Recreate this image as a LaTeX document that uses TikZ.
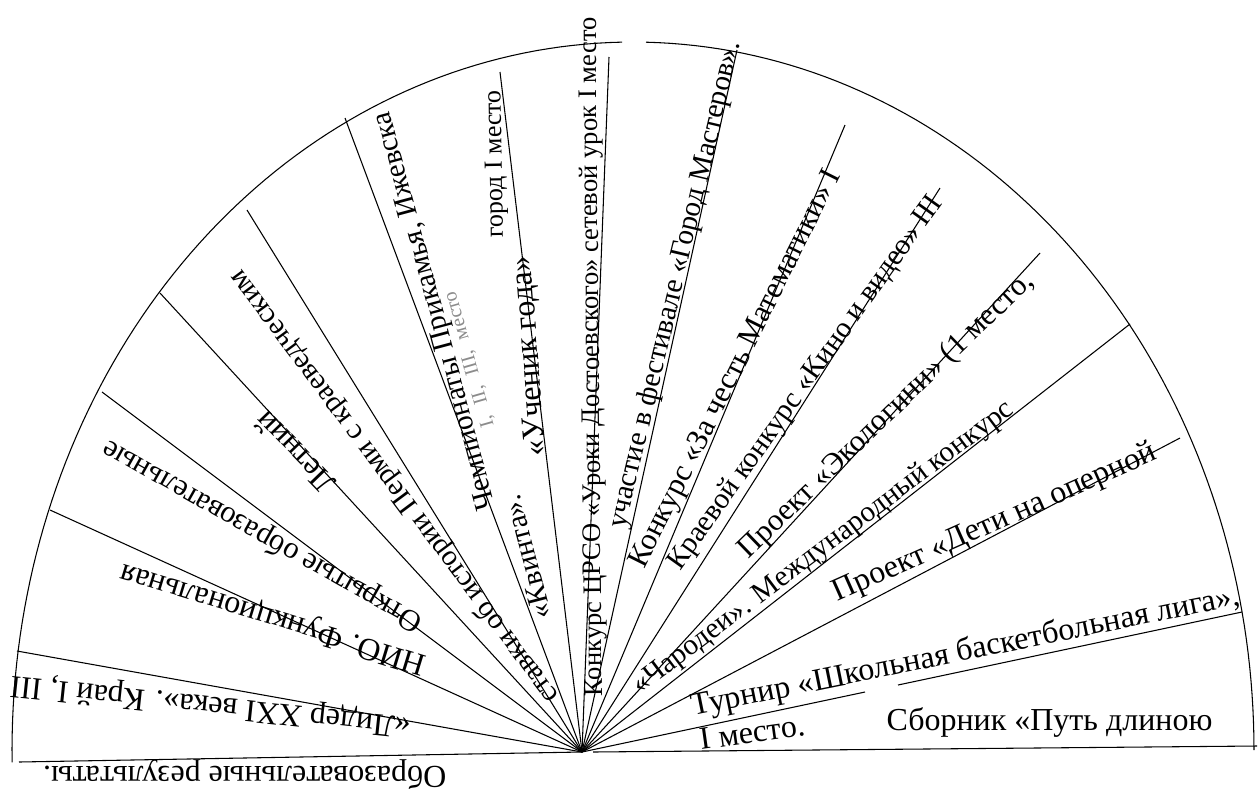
\documentclass[tikz,border=0pt]{standalone}
\usepackage{fontspec}
\setmainfont{Liberation Serif}
\begin{document}
\begin{tikzpicture}[x=0.75pt,y=-0.75pt,line width=0.8pt,
  lbl/.style={anchor=base west,inner sep=0pt,font=\fontsize{24}{28}\selectfont},
  sz/.style={font=\fontsize{#1}{#1}\selectfont},
  faded/.style={anchor=base west,inner sep=0pt,font=\fontsize{15}{18}\selectfont,black!45}]
\useasboundingbox (0,0) rectangle (1260,794);
\coordinate (O) at (582,752);
\coordinate (b1) at (19,762);
\coordinate (b2) at (593,752);
\coordinate (b3) at (1257,746);
\coordinate (r1) at (17,651);
\coordinate (r2) at (50,510);
\coordinate (r3) at (102,392);
\coordinate (r4) at (160,293);
\coordinate (r5) at (247,210);
\coordinate (r6) at (345,118);
\coordinate (r7) at (500,72);
\coordinate (r8) at (609,57);
\coordinate (r9) at (737,50);
\coordinate (r10) at (845,125);
\coordinate (r11) at (940,188);
\coordinate (r12) at (1040,253);
\coordinate (r13) at (1130,324);
\coordinate (r14) at (1180,438);
\coordinate (h1) at (865,692);
\coordinate (h2) at (898,685);
\coordinate (r15) at (1242,612);
\draw plot[domain=181:91,samples=80] ({633+621*cos(\x)},{750-708*sin(\x)});
\draw plot[domain=88.8:0,samples=80] ({633+621*cos(\x)},{750-708*sin(\x)});
\draw (b1) -- (O);
\draw (b2) -- (b3);
\foreach \r in {r1,r2,r3,r4,r5,r6,r7,r8,r9,r10,r11,r12,r13,r14}
  \draw (O) -- (\r);
\draw (O) -- (h1);
\draw (h2) -- (r15);
\node[lbl,rotate=180] (t0) at (447,766) {Образовательные результаты.};
\node[lbl,rotate=174] (t1) at (412,718) {«Лидер XXI века». Край I, III};
\node[lbl,rotate=163] (t2) at (428,657) {НИО. Функциональная};
\node[lbl,sz=23,rotate=150.6] (t3) at (425,618) {Открытые образовательные};
\node[lbl,rotate=134] (t4) at (338,482) {Летний};
\node[lbl,sz=22,rotate=126.7] (t5) at (560,696) {ставки об истории Перми с краеведческим};
\node[lbl,sz=22,rotate=104.5] (t6) at (552,617) {«Квинта».};
\node[faded,rotate=106] (t7) at (494,426) {I,\hspace{9pt}II,\hspace{9pt}III,\hspace{9pt}место};
\node[lbl,sz=22,rotate=105] (t8) at (496,508) {Чемпионаты Прикамья, Ижевска};
\node[lbl,rotate=94.5] (t9) at (546,456) {«Ученик года»};
\node[lbl,sz=19.5,rotate=91] (t10) at (503,238) {город I место};
\node[lbl,sz=20,rotate=90.5] (t11) at (602,697) {Конкурс ЦРСО «Уроки Достоевского» сетевой урок I место};
\node[lbl,sz=22,rotate=76.7] (t12) at (625,530) {участие в фестивале «Город Мастеров».};
\node[lbl,sz=23,rotate=63.5] (t13) at (644,570) {Конкурс «За честь Математики» I};
\node[lbl,sz=22,rotate=54.5] (t14) at (680,572) {Краевой конкурс «Кино и видео» III};
\node[lbl,sz=23,rotate=44] (t15) at (748,560) {Проект «Экологини» (1 место,};
\node[lbl,sz=22,rotate=37] (t16) at (640,695) {«Чародеи». Международный конкурс};
\node[lbl,rotate=24] (t17) at (837,602) {Проект «Дети на оперной};
\node[lbl,rotate=11.5] (t18) at (693,716) {Турнир «Школьная баскетбольная лига»,};
\node[lbl,rotate=8] (t19) at (701,750) {I место.};
\node[lbl] (t20) at (886,730) {Сборник «Путь длиною};
\end{tikzpicture}
\end{document}
